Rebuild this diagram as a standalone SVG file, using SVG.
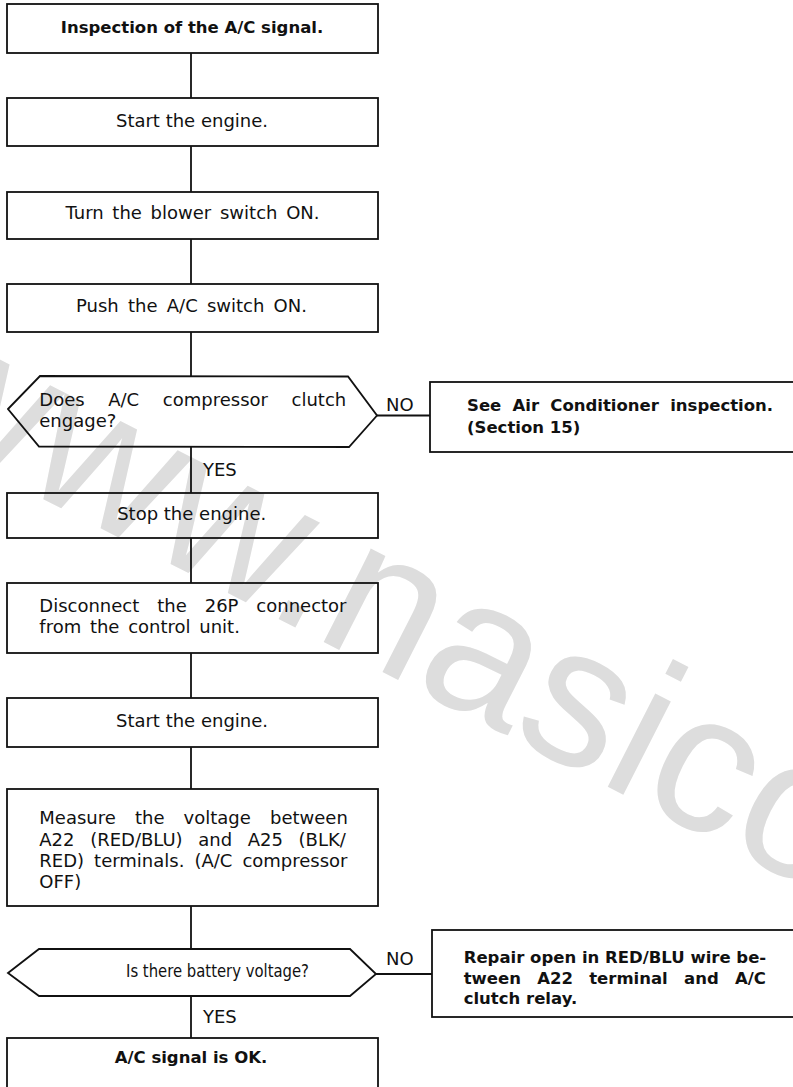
<svg xmlns="http://www.w3.org/2000/svg" width="793" height="1087" viewBox="0 0 793 1087">
  <style>
    .box { fill: none; stroke: #111; stroke-width: 1.8; }
    .ln { fill: none; stroke: #111; stroke-width: 1.8; }
    .t { font-family: "DejaVu Sans", "Liberation Sans", sans-serif; font-size: 18px; fill: #111; }
    .b { font-family: "DejaVu Sans", "Liberation Sans", sans-serif; font-size: 16.5px; font-weight: bold; fill: #111; }
    .c { text-anchor: middle; }
    .wm { font-family: "Liberation Sans", Arial, sans-serif; font-size: 198px; fill: #dddddd; }
  </style>

  <rect width="793" height="1087" fill="#ffffff"/>

  <!-- light background lettering, drawn first so the chart sits over it -->
  <g id="watermark">
    <text class="wm" transform="translate(-110,421) rotate(27)">www.nasico</text>
  </g>

  <!-- flow lines -->
  <g id="connectors">
    <line class="ln" x1="191" y1="53" x2="191" y2="98"/>
    <line class="ln" x1="191" y1="146" x2="191" y2="192"/>
    <line class="ln" x1="191" y1="239" x2="191" y2="284"/>
    <line class="ln" x1="191" y1="332" x2="191" y2="376"/>
    <line class="ln" x1="191" y1="447" x2="191" y2="493"/>
    <line class="ln" x1="377" y1="415.5" x2="430" y2="415.5"/>
    <line class="ln" x1="191" y1="538" x2="191" y2="583"/>
    <line class="ln" x1="191" y1="653" x2="191" y2="698"/>
    <line class="ln" x1="191" y1="747" x2="191" y2="789"/>
    <line class="ln" x1="191" y1="906" x2="191" y2="949"/>
    <line class="ln" x1="376" y1="974" x2="432" y2="974"/>
    <line class="ln" x1="191" y1="996" x2="191" y2="1038"/>
    <text class="t" x="386" y="411">NO</text>
    <text class="t" x="203" y="476">YES</text>
    <text class="t" x="386" y="965">NO</text>
    <text class="t" x="203" y="1023">YES</text>
  </g>

  <g id="start">
    <rect class="box" x="7" y="4" width="371" height="49"/>
    <text class="b c" x="192" y="33">Inspection of the A/C signal.</text>
  </g>

  <g id="step-start-engine">
    <rect class="box" x="7" y="98" width="371" height="48"/>
    <text class="t c" x="192" y="127">Start the engine.</text>
  </g>

  <g id="step-blower">
    <rect class="box" x="7" y="192" width="371" height="47"/>
    <text class="t c" x="192.5" y="219" style="word-spacing:3px">Turn the blower switch ON.</text>
  </g>

  <g id="step-ac-switch">
    <rect class="box" x="7" y="284" width="371" height="48"/>
    <text class="t c" x="191.5" y="312" style="word-spacing:3.5px">Push the A/C switch ON.</text>
  </g>

  <g id="check-clutch">
    <polygon class="box" points="8,409 40,376 348,376.5 377,415.5 349,447 39,446.5"/>
    <text class="t" x="39.3" y="406" style="word-spacing:17.9px">Does A/C compressor clutch</text>
    <text class="t" x="39.3" y="427">engage?</text>
  </g>

  <g id="see-ac-inspection">
    <rect class="box" x="430" y="382" width="380" height="70"/>
    <text class="b" x="467" y="410.7" style="word-spacing:5.5px">See Air Conditioner inspection.</text>
    <text class="b" x="467" y="432.7">(Section 15)</text>
  </g>

  <g id="step-stop-engine">
    <rect class="box" x="7" y="493" width="371" height="45"/>
    <text class="t c" x="191.7" y="520">Stop the engine.</text>
  </g>

  <g id="step-disconnect">
    <rect class="box" x="7" y="583" width="371" height="70"/>
    <text class="t" x="39.3" y="611.7" style="word-spacing:12.2px">Disconnect the 26P connector</text>
    <text class="t" x="39.3" y="633" style="word-spacing:3px">from the control unit.</text>
  </g>

  <g id="step-restart-engine">
    <rect class="box" x="7" y="698" width="371" height="49"/>
    <text class="t c" x="192" y="727">Start the engine.</text>
  </g>

  <g id="step-measure">
    <rect class="box" x="7" y="789" width="371" height="117"/>
    <text class="t" x="39.3" y="824" style="word-spacing:13.4px">Measure the voltage between</text>
    <text class="t" x="39.3" y="845.7" style="word-spacing:9.9px">A22 (RED/BLU) and A25 (BLK/</text>
    <text class="t" x="39.3" y="866.7" style="word-spacing:4.3px">RED) terminals. (A/C compressor</text>
    <text class="t" x="39.3" y="888">OFF)</text>
  </g>

  <g id="check-voltage">
    <polygon class="box" points="8,973 39,949 350,949 376,974 350,996 39,996"/>
    <text class="t" x="126" y="977" textLength="183" lengthAdjust="spacingAndGlyphs">Is there battery voltage?</text>
  </g>

  <g id="repair-wire">
    <rect class="box" x="432" y="930" width="380" height="87"/>
    <text class="b" x="463.7" y="963">Repair open in RED/BLU wire be-</text>
    <text class="b" x="463.7" y="984" style="word-spacing:10.5px">tween A22 terminal and A/C</text>
    <text class="b" x="463.7" y="1004">clutch relay.</text>
  </g>

  <g id="result-ok">
    <rect class="box" x="7" y="1038" width="371" height="60"/>
    <text class="b c" x="191" y="1063">A/C signal is OK.</text>
  </g>
</svg>
